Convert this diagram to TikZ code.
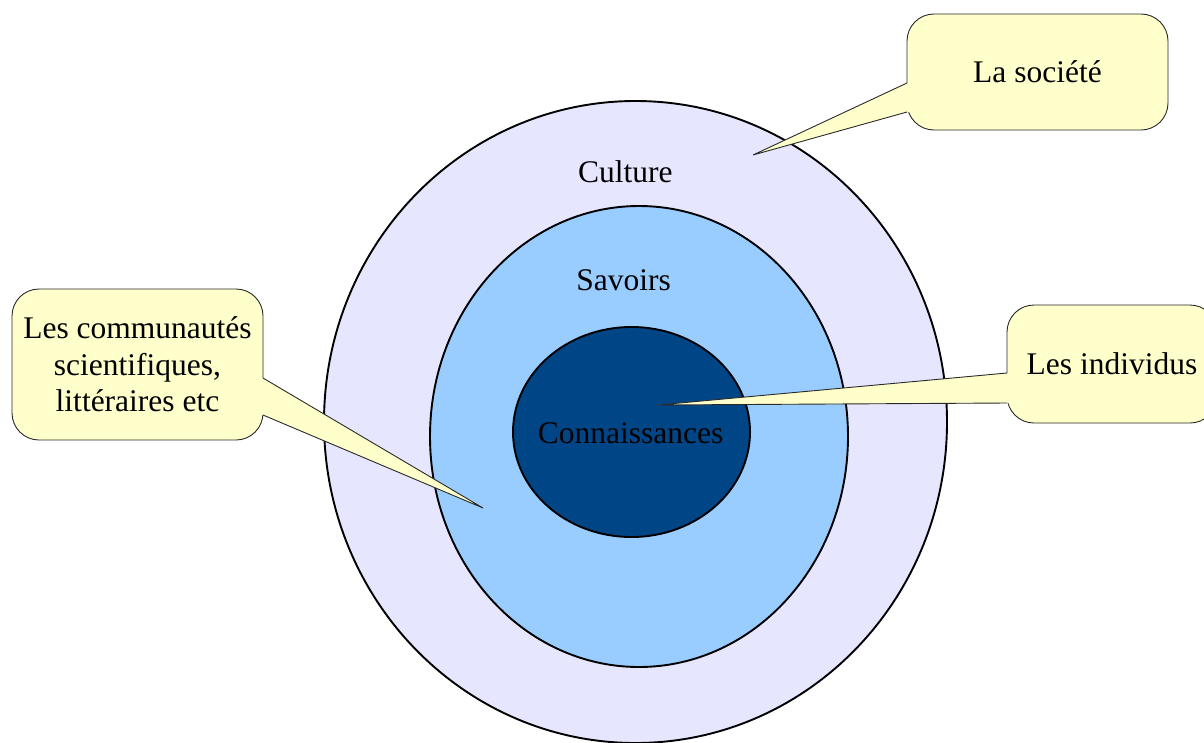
\documentclass[tikz,border=0pt]{standalone}
\usepackage{fontspec}
\setmainfont{Liberation Serif}
\usetikzlibrary{shapes.geometric}
\definecolor{culturefill}{HTML}{E6E6FF}
\definecolor{savoirfill}{HTML}{99CCFF}
\definecolor{connfill}{HTML}{004586}
\definecolor{callfill}{HTML}{FFFFCC}
\definecolor{callline}{HTML}{2A2A2A}
\tikzset{
  ring/.style={ellipse, draw=black, line width=1.9pt, inner sep=0pt, outer sep=0pt},
  lbl/.style={anchor=base, inner sep=0pt, font=\fontsize{31.5}{36.5}\selectfont},
  callout/.style={draw=callline, fill=callfill, line width=0.9pt, rounded corners=27pt,
    inner sep=0pt, outer sep=0pt, align=center, font=\fontsize{31.5}{36.5}\selectfont},
  ptrfill/.style={fill=callfill},
  ptrline/.style={draw=callline, line width=0.9pt, line join=miter}
}
\begin{document}
\begin{tikzpicture}[x=1pt,y=-1pt]
\useasboundingbox (0,0) rectangle (1204,742);
\clip (0,0) rectangle (1204,742);
% rings
\node[ring, fill=culturefill, minimum width=623pt, minimum height=642pt] (culture) at (635.5,422) {};
\node[ring, fill=savoirfill, minimum width=418pt, minimum height=461pt] (savoirs) at (639,436.5) {};
\node[ring, fill=connfill, minimum width=237pt, minimum height=210pt] (conn) at (631.5,432) {};
\node[lbl] (tculture) at (625.3,182) {Culture};
\node[lbl] (tsavoirs) at (623.7,290) {Savoirs};
\node[lbl] (tconn) at (630.7,443) {Connaissances};
% callout: La société
\node[callout, minimum width=261pt, minimum height=116pt] (soc) at (1037.5,72) {La société};
\coordinate (socTip) at (753,155);
\fill[ptrfill] ([yshift=-11pt]soc.west) -- (socTip) -- ([yshift=-40pt]soc.west)
  -- ([xshift=6pt,yshift=-40pt]soc.west) -- ([xshift=6pt,yshift=-11pt]soc.west) -- cycle;
\draw[ptrline] ([yshift=-11pt]soc.west) -- (socTip) -- ([yshift=-40pt]soc.west);
% callout: communautés
\node[callout, minimum width=251pt, minimum height=151pt] (comm) at (137.5,364.5)
  {Les communautés\\scientifiques,\\littéraires etc};
\coordinate (commTip) at (483,508);
\fill[ptrfill] ([yshift=-13.5pt]comm.east) -- (commTip) -- ([yshift=-50.5pt]comm.east)
  -- ([xshift=-6pt,yshift=-50.5pt]comm.east) -- ([xshift=-6pt,yshift=-13.5pt]comm.east) -- cycle;
\draw[ptrline] ([yshift=-13.5pt]comm.east) -- (commTip) -- ([yshift=-50.5pt]comm.east);
% callout: individus
\node[callout, minimum width=210pt, minimum height=118pt] (ind) at (1112,364) {Les individus};
\coordinate (indTip) at (658,405);
\fill[ptrfill] ([yshift=-9pt]ind.west) -- (indTip) -- ([yshift=-39pt]ind.west)
  -- ([xshift=6pt,yshift=-39pt]ind.west) -- ([xshift=6pt,yshift=-9pt]ind.west) -- cycle;
\draw[ptrline] ([yshift=-9pt]ind.west) -- (indTip) -- ([yshift=-39pt]ind.west);
\end{tikzpicture}
\end{document}
